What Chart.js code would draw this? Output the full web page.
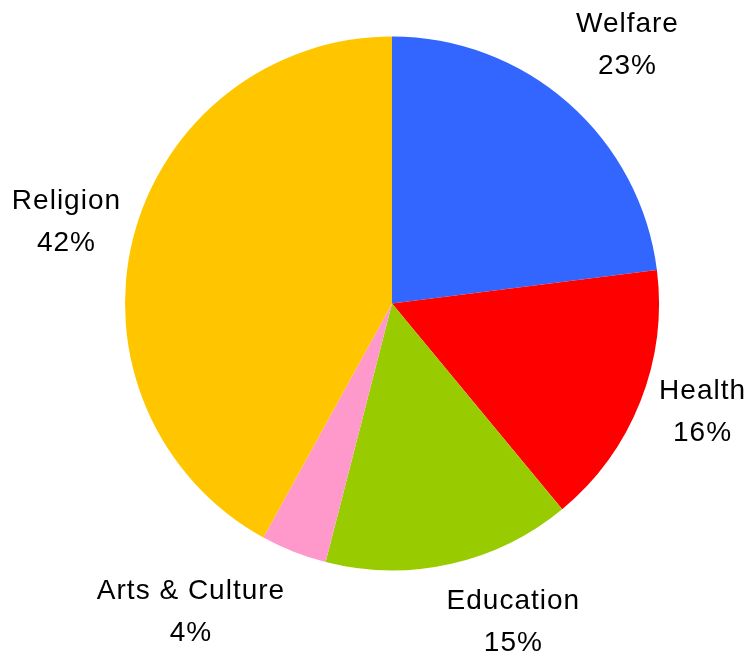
<!DOCTYPE html>
<html>
<head>
<meta charset="utf-8">
<script src="https://cdn.jsdelivr.net/npm/chart.js@4"></script>
<style>
  html, body { margin: 0; padding: 0; background: #fff; }
  #wrap { width: 750px; height: 653px; }
</style>
</head>
<body>
<div id="wrap"><canvas id="pie" width="750" height="653"></canvas></div>
<script>
const categories = ["Welfare", "Health", "Education", "Arts & Culture", "Religion"]
const shares = [23, 16, 15, 4, 42]
const sliceColors = ["#3366FF", "#FF0000", "#99CC00", "#FF99CC", "#FFC600"]

// labels sit outside each slice, along its middle angle, then nudged a bit
const outsideLabels = {
    id: "outsideLabels",
    afterDatasetsDraw(chart, args, opts) {
        const ctx = chart.ctx
        const meta = chart.getDatasetMeta(0)
        ctx.save()
        ctx.font = opts.font
        ctx.letterSpacing = opts.letterSpacing
        ctx.fillStyle = "#000"
        ctx.textAlign = "center"
        ctx.textBaseline = "middle"
        meta.data.forEach((arc, i) => {
            const p = arc.getProps(["x", "y", "startAngle", "endAngle", "outerRadius"], true)
            const mid = (p.startAngle + p.endAngle) / 2
            const dx = Math.cos(mid), dy = Math.sin(mid)
            const lines = [categories[i], shares[i] + "%"]
            const hw = Math.max(...lines.map(l => ctx.measureText(l).width)) / 2
            const hh = opts.lineHeight * 0.75
            const r = p.outerRadius + opts.gap
            const nudge = opts.nudge[i] || [0, 0]
            const cx = p.x + dx * r + dx * hw + nudge[0]
            const cy = p.y + dy * r + dy * hh + nudge[1]
            ctx.fillText(lines[0], cx, cy - opts.lineHeight / 2)
            ctx.fillText(lines[1], cx, cy + opts.lineHeight / 2)
        })
        ctx.restore()
    }
}

new Chart(document.getElementById("pie").getContext("2d"), {
    type: "pie",
    data: {
        labels: categories,
        datasets: [{
            data: shares,
            backgroundColor: sliceColors,
            borderWidth: 0
        }]
    },
    options: {
        responsive: false,
        animation: false,
        layout: { padding: { top: 36, bottom: 82, left: 125, right: 91 } },
        plugins: {
            legend: { display: false },
            tooltip: { enabled: false },
            outsideLabels: {
                font: "28px 'Liberation Sans', Arial, sans-serif",
                letterSpacing: "1px",
                lineHeight: 42,
                gap: 30,
                nudge: [[5, -12], [-6, -12], [42, -2], [-57, 3], [15, 0]]
            }
        }
    },
    plugins: [outsideLabels]
})
</script>
</body>
</html>
